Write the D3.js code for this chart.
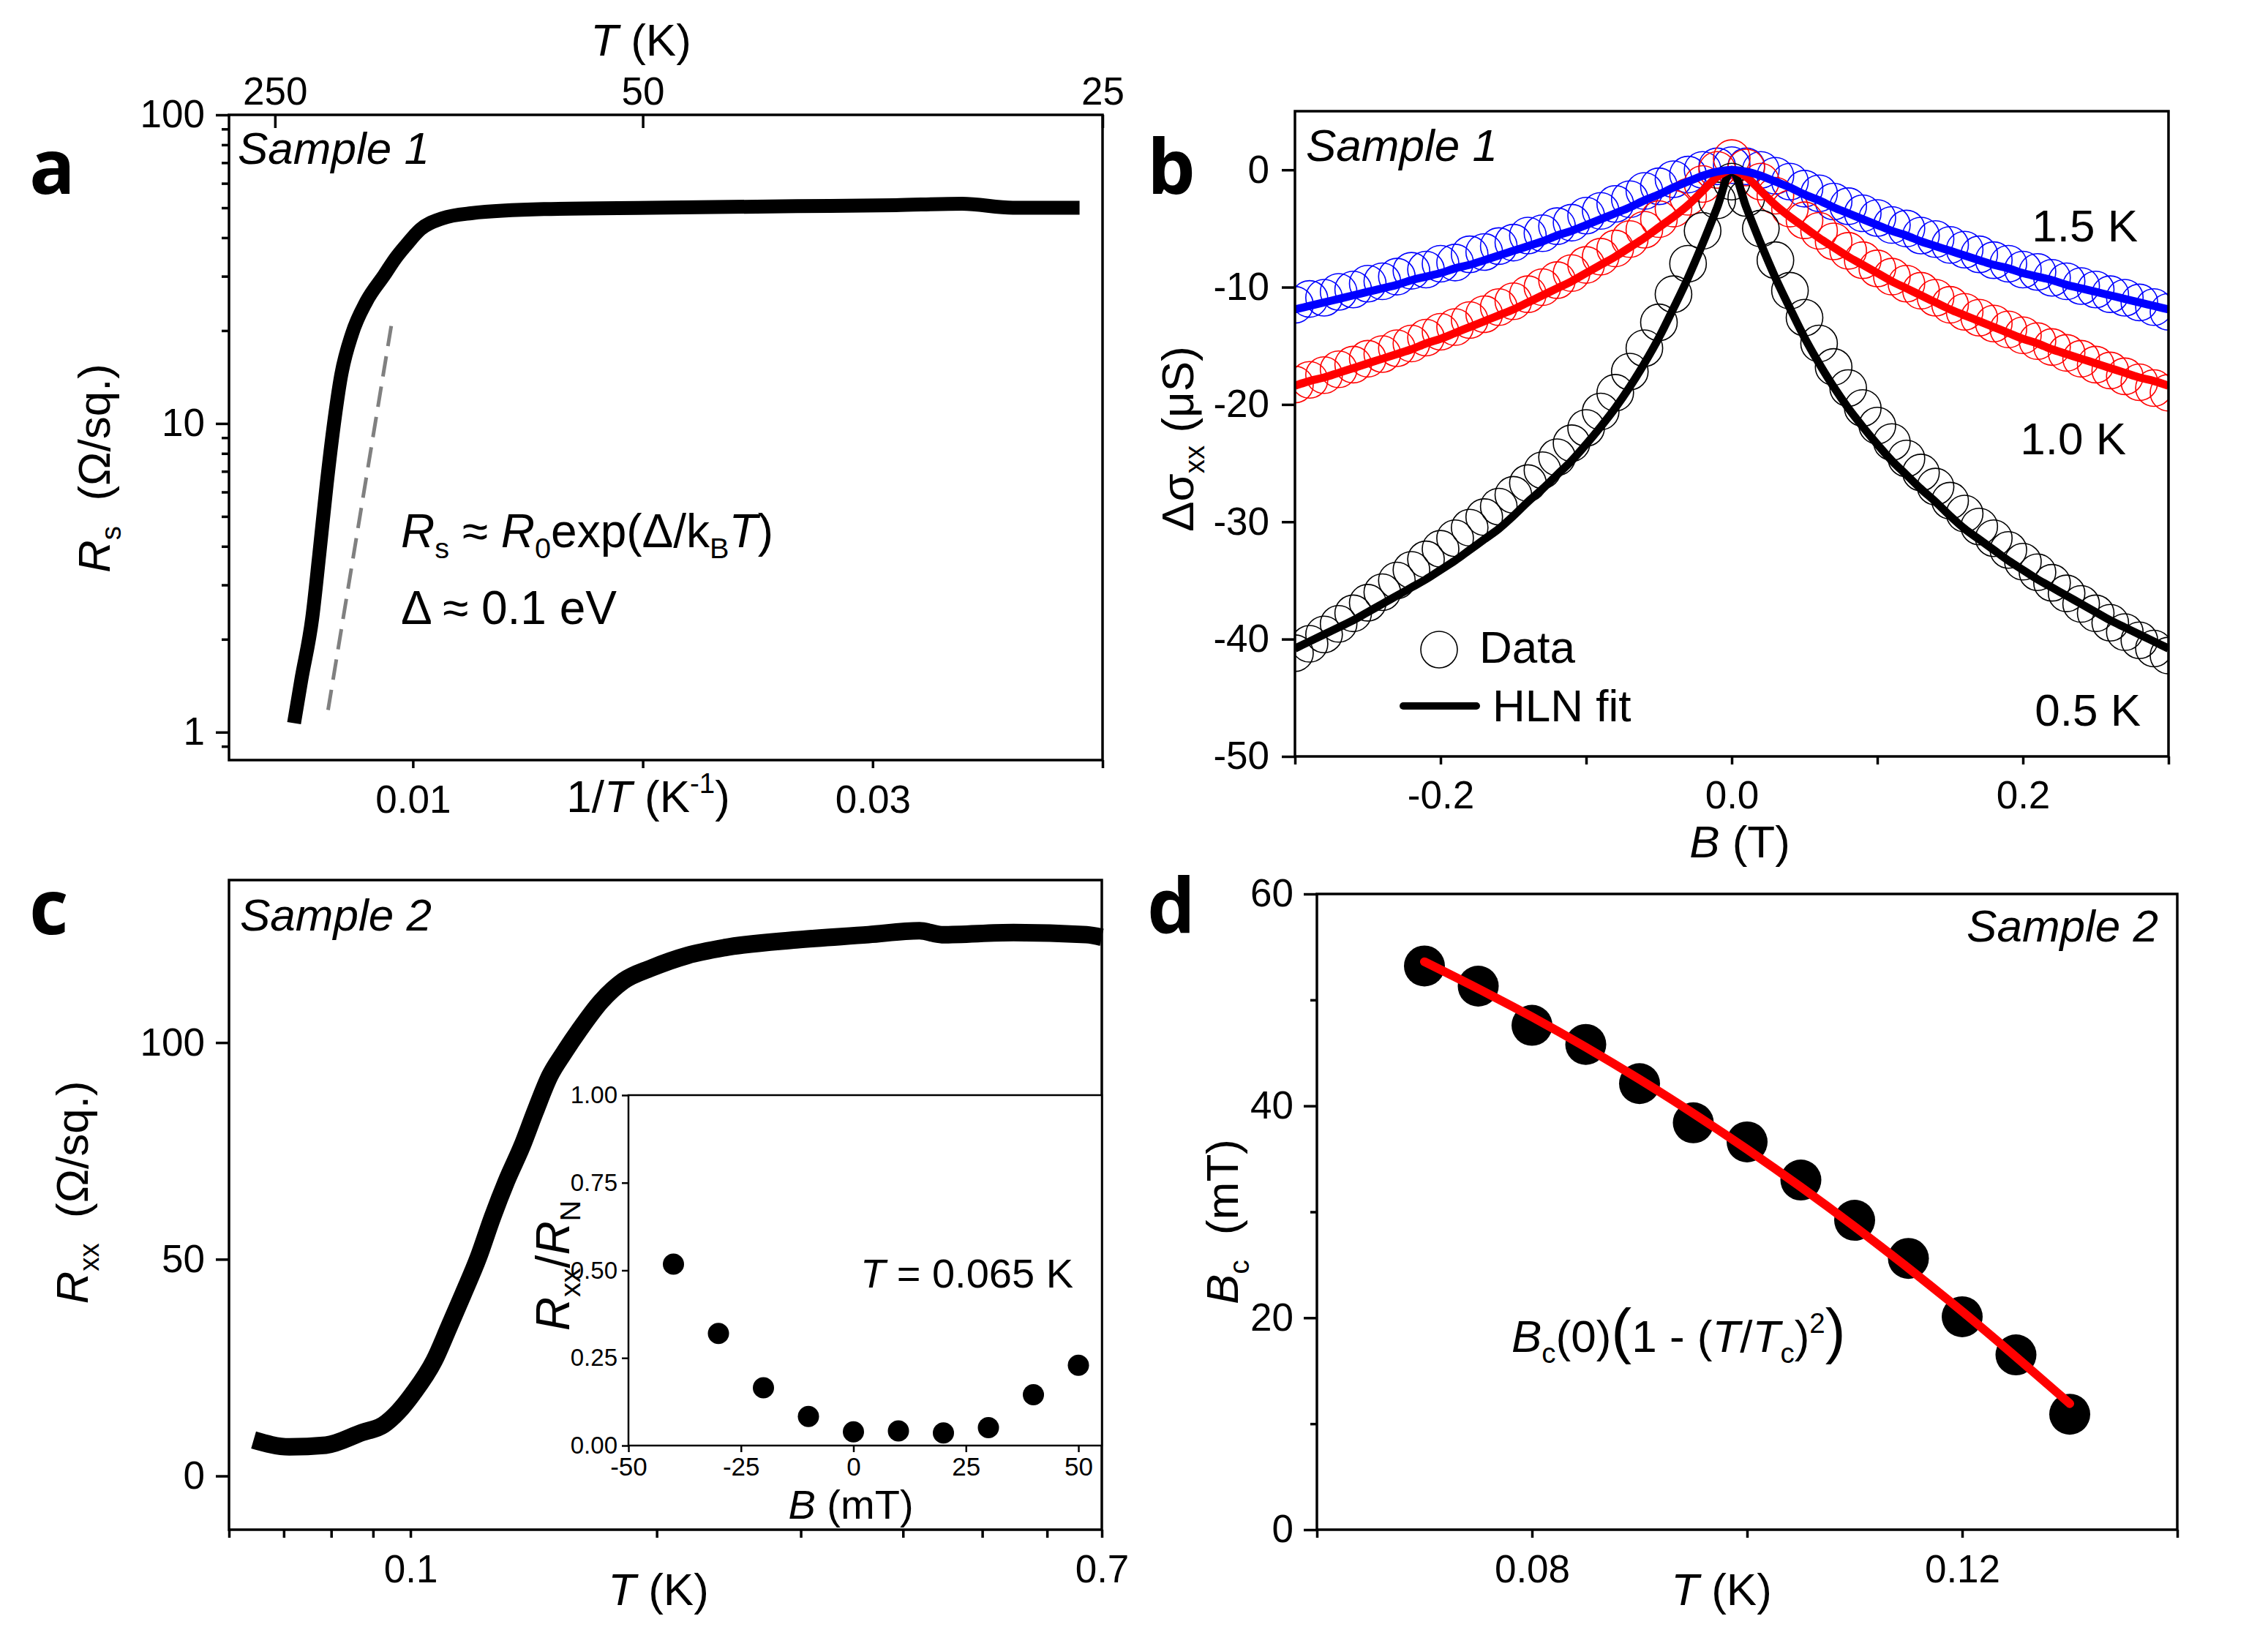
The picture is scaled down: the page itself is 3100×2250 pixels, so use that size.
<!DOCTYPE html>
<html><head><meta charset="utf-8">
<script src="https://cdn.jsdelivr.net/npm/d3@7"></script>
<style>body{margin:0;background:#fff} text{white-space:pre}</style>
</head><body>
<script>
// ---------- Panel a data ----------
const aInvT = [0.00483,0.00514,0.00562,0.00593,0.00625,0.00656,0.00687,0.00735,0.00797,0.00876,0.00923,0.0097,0.01033,0.01128,0.01253,0.0157,0.0204,0.0267,0.031,0.0339,0.0361,0.039];
const aRs   = [1.07,1.47,2.34,3.78,6.36,9.9,14.2,19.5,24.8,30.3,34.2,37.8,42.6,46.2,48,49.5,50,50.6,51,51.5,50,50];
const aFitInvT = [0.00631, 0.00908];
const aFitRs   = [1.18, 21.2];
const aBottomTicks = [0.01, 0.02, 0.03, 0.04];
const aBottomLabels = ['0.01', '', '0.03', ''];
const aTopT = [250, 50, 25];
const aLeftTicks = [1, 10, 100];

// ---------- Panel b data ----------
const bField = [-0.30,-0.29,-0.28,-0.27,-0.26,-0.25,-0.24,-0.23,-0.22,-0.21,-0.20,-0.19,-0.18,-0.17,-0.16,-0.15,-0.14,-0.13,-0.12,-0.11,-0.10,-0.09,-0.08,-0.07,-0.06,-0.05,-0.04,-0.03,-0.02,-0.01,0,0.01,0.02,0.03,0.04,0.05,0.06,0.07,0.08,0.09,0.10,0.11,0.12,0.13,0.14,0.15,0.16,0.17,0.18,0.19,0.20,0.21,0.22,0.23,0.24,0.25,0.26,0.27,0.28,0.29,0.30];
const blueData = [-11.5,-11.0,-10.9,-10.4,-10.2,-9.7,-9.5,-9.1,-8.6,-8.5,-8.0,-7.9,-7.2,-7.0,-6.5,-6.2,-5.6,-5.4,-4.8,-4.5,-3.9,-3.5,-2.9,-2.5,-1.8,-1.4,-0.8,-0.4,0.0,0.3,0.4,0.3,0.0,-0.5,-1.0,-1.6,-2.0,-2.7,-3.1,-3.7,-4.1,-4.7,-5.0,-5.6,-5.9,-6.4,-6.8,-7.2,-7.7,-8.0,-8.5,-8.7,-9.2,-9.5,-9.9,-10.2,-10.6,-10.9,-11.3,-11.7,-12.1];
const blueFit  = [-11.9,-11.6,-11.3,-11.0,-10.7,-10.4,-10.1,-9.8,-9.4,-9.1,-8.8,-8.4,-8.1,-7.7,-7.3,-6.9,-6.5,-6.1,-5.6,-5.2,-4.7,-4.2,-3.7,-3.2,-2.6,-2.1,-1.5,-1.0,-0.5,-0.15,0,-0.15,-0.5,-1.0,-1.5,-2.1,-2.6,-3.2,-3.7,-4.2,-4.7,-5.2,-5.6,-6.1,-6.5,-6.9,-7.3,-7.7,-8.1,-8.4,-8.8,-9.1,-9.4,-9.8,-10.1,-10.4,-10.7,-11.0,-11.3,-11.6,-11.9];
const redData  = [-18.3,-17.9,-17.5,-17.0,-16.6,-16.1,-15.7,-15.2,-14.8,-14.3,-13.8,-13.4,-12.8,-12.3,-11.7,-11.2,-10.6,-10.0,-9.4,-8.8,-8.1,-7.4,-6.7,-5.9,-5.1,-4.2,-3.3,-2.3,-1.2,0.0,1.0,0.2,-1.0,-2.2,-3.3,-4.3,-5.2,-6.1,-6.9,-7.7,-8.4,-9.1,-9.7,-10.3,-10.9,-11.5,-12.1,-12.6,-13.1,-13.6,-14.1,-14.6,-15.1,-15.6,-16.1,-16.6,-17.1,-17.6,-18.1,-18.6,-19.0];
const redFit   = [-18.4,-18.0,-17.7,-17.3,-16.9,-16.5,-16.1,-15.7,-15.3,-14.8,-14.4,-13.9,-13.4,-12.9,-12.4,-11.9,-11.3,-10.7,-10.1,-9.5,-8.8,-8.1,-7.4,-6.6,-5.8,-4.9,-4.0,-3.0,-1.8,-0.6,0,-0.6,-1.8,-3.0,-4.0,-4.9,-5.8,-6.6,-7.4,-8.1,-8.8,-9.5,-10.1,-10.7,-11.3,-11.9,-12.4,-12.9,-13.4,-13.9,-14.4,-14.8,-15.3,-15.7,-16.1,-16.5,-16.9,-17.3,-17.7,-18.0,-18.4];
const blackData= [-41.2,-40.4,-39.6,-38.7,-37.8,-36.9,-36.0,-35.0,-34.1,-33.2,-32.3,-31.4,-30.5,-29.6,-28.7,-27.7,-26.7,-25.6,-24.5,-23.3,-22.0,-20.6,-19.0,-17.2,-15.2,-13.0,-10.6,-8.0,-5.2,-2.6,-1.0,-2.4,-5.0,-7.7,-10.3,-12.6,-14.8,-16.8,-18.6,-20.3,-21.8,-23.2,-24.6,-25.8,-27.0,-28.2,-29.3,-30.4,-31.4,-32.4,-33.4,-34.3,-35.2,-36.1,-37.0,-37.8,-38.6,-39.4,-40.1,-40.8,-41.4];
const blackFit = [-40.8,-40.2,-39.6,-39.0,-38.4,-37.7,-37.0,-36.3,-35.6,-34.9,-34.1,-33.3,-32.4,-31.5,-30.6,-29.5,-28.3,-27.2,-26.0,-24.8,-23.4,-21.9,-20.3,-18.5,-16.5,-14.3,-11.8,-9.2,-6.3,-3.2,0,-3.2,-6.3,-9.2,-11.8,-14.3,-16.5,-18.5,-20.3,-21.9,-23.4,-24.8,-26.0,-27.2,-28.3,-29.5,-30.6,-31.5,-32.4,-33.3,-34.1,-34.9,-35.6,-36.3,-37.0,-37.7,-38.4,-39.0,-39.6,-40.2,-40.8];
const bSeriesLabels = ['1.5 K', '1.0 K', '0.5 K'];
const bXTicks = [-0.3,-0.2,-0.1,0,0.1,0.2,0.3];
const bXLabels = ['', '-0.2', '', '0.0', '', '0.2', ''];
const bYTicks = [0,-10,-20,-30,-40,-50];

// ---------- Panel c data ----------
const cT = [0.0643,0.0711,0.0788,0.0872,0.0927,0.0966,0.1006,0.1069,0.1114,0.116,0.121,0.126,0.131,0.137,0.142,0.148,0.154,0.161,0.171,0.182,0.197,0.218,0.242,0.296,0.363,0.419,0.446,0.546,0.67,0.7];
const cR = [8.3,6.7,7.1,10,11.8,14.8,18.9,26.6,34.3,42,50.3,59.8,68,76.3,84,92.3,97.6,103,109.5,114.2,117.2,120.1,121.9,123.7,124.9,125.8,124.9,125.4,124.9,124.3];
const cXTicks = [0.06,0.07,0.08,0.09,0.1,0.2,0.3,0.4,0.5,0.6,0.7];
const cXLabeled = [0.1, 0.7];
const cYTicks = [0, 50, 100];
const insetB = [-40,-30,-20,-10,0,10,20,30,40,50];
const insetR = [0.518,0.320,0.165,0.083,0.039,0.042,0.036,0.051,0.145,0.229];
const insetXTicks = [-50,-25,0,25,50];
const insetYTicks = [0,0.25,0.5,0.75,1.0];

// ---------- Panel d data ----------
const dT  = [0.070,0.075,0.080,0.085,0.090,0.095,0.100,0.105,0.110,0.115,0.120,0.125,0.130];
const dBc = [53.2,51.3,47.6,45.8,42.1,38.4,36.6,33.0,29.2,25.6,20.1,16.5,10.9];
const dFitT  = [0.07,0.08,0.09,0.10,0.11,0.12,0.13];
const dFitBc = [53.6,48.4,42.5,35.9,28.6,20.6,11.9];
const dXTicks = [0.06,0.08,0.10,0.12,0.14];
const dXLabels = ['', '0.08', '', '0.12', ''];
const dYTicks = [0,20,40,60];
const dYMinor = [10,30,50];

// ---------- drawing ----------
const FONT = "'Liberation Sans', Arial, Helvetica, sans-serif";
const TICK_FS = 53, TITLE_FS = 62, LW = 3.5;
const svg = d3.select('body').append('svg').attr('width',3100).attr('height',2250)
  .attr('font-family', FONT);
svg.append('rect').attr('width',3100).attr('height',2250).attr('fill','#fff');

function styleAxis(g, fs) {
  g.selectAll('.domain').remove();
  g.selectAll('.tick line').attr('stroke','#000').attr('stroke-width',LW);
  g.selectAll('.tick text').attr('font-size',fs).attr('font-family',FONT).attr('fill','#000');
  return g;
}
function box(x0,y0,x1,y1) {
  svg.append('rect').attr('x',x0).attr('y',y0).attr('width',x1-x0).attr('height',y1-y0)
    .attr('fill','none').attr('stroke','#000').attr('stroke-width',LW);
}
function rich(parent, x, y, parts, fs, anchor, rot) {
  const t = parent.append('text').attr('font-size',fs).attr('text-anchor',anchor||'start').attr('fill','#000');
  if (rot) t.attr('transform',`translate(${x},${y}) rotate(-90)`); else t.attr('x',x).attr('y',y);
  let cur = 0;
  parts.forEach(p => {
    const s = t.append('tspan').text(p.t);
    let shift = 0, size = fs;
    if (p.sub) { shift = 0.24*fs; size = 0.62*fs; }
    if (p.sup) { shift = -0.42*fs; size = 0.62*fs; }
    if (p.big) size = fs*p.big;
    s.attr('font-size', size);
    if (shift - cur !== 0) s.attr('dy', shift - cur);
    cur = shift;
    if (p.it) s.attr('font-style','italic');
  });
  return t;
}
function letter(x, y, s) {
  svg.append('text').attr('x',x).attr('y',y).text(s).attr('font-family',"'Open Sans', 'DejaVu Sans', sans-serif")
    .attr('font-weight',700).attr('font-size',104).attr('fill','#000');
}
const hy = v => String(v).replace('\u2212','-');

// ===== Panel a =====
{
  const L=313, R=1507, T=157, B=1039;
  const x = d3.scaleLinear().domain([0.002,0.04]).range([L,R]);
  const y = d3.scaleLog().domain([0.812,100]).range([B,T]);
  styleAxis(svg.append('g').attr('transform',`translate(0,${B})`)
    .call(d3.axisBottom(x).tickValues(aBottomTicks).tickFormat((d,i)=>aBottomLabels[i]).tickSize(11).tickPadding(23)), TICK_FS);
  styleAxis(svg.append('g').attr('transform',`translate(${L},0)`)
    .call(d3.axisLeft(y).tickValues(aLeftTicks).tickFormat(d3.format('d')).tickSize(18).tickPadding(15)), TICK_FS);
  const minor = [0.9,2,3,4,5,6,7,8,9,20,30,40,50,60,70,80,90];
  styleAxis(svg.append('g').attr('transform',`translate(${L},0)`)
    .call(d3.axisLeft(y).tickValues(minor).tickFormat('').tickSize(10)), TICK_FS);
  styleAxis(svg.append('g').attr('transform',`translate(0,${T})`)
    .call(d3.axisTop(x).tickValues(aTopT.map(t=>1/t)).tickFormat((d,i)=>aTopT[i]).tickSize(-18).tickPadding(14)), TICK_FS);
  box(L,T,R,B);
  // dashed exponential fit
  svg.append('path').attr('d', d3.line()(aFitInvT.map((v,i)=>[x(v), y(aFitRs[i])])))
    .attr('stroke','#808080').attr('stroke-width',5).attr('stroke-dasharray','28,14').attr('fill','none');
  // data
  svg.append('path').attr('d', d3.line().curve(d3.curveMonotoneX)(aInvT.map((v,i)=>[x(v), y(aRs[i])])))
    .attr('stroke','#000').attr('stroke-width',19).attr('fill','none').attr('stroke-linejoin','round');
  rich(svg, 325, 224, [{t:'Sample 1', it:true}], TITLE_FS);
  rich(svg, 548, 748, [{t:'R',it:true},{t:'s',sub:true},{t:' \u2248 '},{t:'R',it:true},{t:'0',sub:true},{t:'exp(\u0394/k'},{t:'B',sub:true},{t:'T',it:true},{t:')'}], 64);
  rich(svg, 548, 853, [{t:'\u0394 \u2248 0.1 eV'}], 64);
  rich(svg, 876, 76, [{t:'T',it:true},{t:' (K)'}], TITLE_FS, 'middle');
  rich(svg, 886, 1110, [{t:'1/'},{t:'T',it:true},{t:' (K'},{t:'-1',sup:true},{t:')'}], TITLE_FS, 'middle');
  rich(svg, 150, 640, [{t:'R',it:true},{t:'s',sub:true},{t:'  (\u03A9/sq.)'}], TITLE_FS, 'middle', true);
  letter(40, 265, 'a');
}

// ===== Panel b =====
{
  const L=1770, R=2964, T=152, B=1034;
  const x = d3.scaleLinear().domain([-0.3,0.3]).range([L,R]);
  const y = d3.scaleLinear().domain([-50,5]).range([B,T]);
  styleAxis(svg.append('g').attr('transform',`translate(0,${B})`)
    .call(d3.axisBottom(x).tickValues(bXTicks).tickFormat((d,i)=>bXLabels[i]).tickSize(11).tickPadding(22)), TICK_FS);
  styleAxis(svg.append('g').attr('transform',`translate(${L},0)`)
    .call(d3.axisLeft(y).tickValues(bYTicks).tickFormat(d=>hy(d)).tickSize(18).tickPadding(17)), TICK_FS);
  svg.append('clipPath').attr('id','clipb').append('rect').attr('x',L).attr('y',T).attr('width',R-L).attr('height',B-T);
  const pg = svg.append('g').attr('clip-path','url(#clipb)');
  const series = [
    {data: blueData, fit: blueFit, color:'#0000ff'},
    {data: redData, fit: redFit, color:'#ff0000'},
    {data: blackData, fit: blackFit, color:'#000000'}
  ];
  series.forEach(s => {
    pg.append('g').selectAll('circle').data(bField).join('circle')
      .attr('cx', d=>x(d)).attr('cy', (d,i)=>y(s.data[i])).attr('r',25)
      .attr('fill','none').attr('stroke', s.color).attr('stroke-width',1.6);
  });
  [series[2], series[1], series[0]].forEach(s => {
    pg.append('path').attr('d', d3.line().curve(d3.curveMonotoneX)(bField.map((v,i)=>[x(v), y(s.fit[i])])))
      .attr('stroke', s.color).attr('stroke-width',11).attr('fill','none');
  });
  box(L,T,R,B);
  rich(svg, 1785, 220, [{t:'Sample 1', it:true}], TITLE_FS);
  rich(svg, 2922, 330, [{t:bSeriesLabels[0]}], TITLE_FS, 'end');
  rich(svg, 2906, 621, [{t:bSeriesLabels[1]}], TITLE_FS, 'end');
  rich(svg, 2926, 992, [{t:bSeriesLabels[2]}], TITLE_FS, 'end');
  // legend
  svg.append('circle').attr('cx',1967).attr('cy',888).attr('r',25).attr('fill','none').attr('stroke','#000').attr('stroke-width',1.6);
  rich(svg, 2022, 906, [{t:'Data'}], TITLE_FS);
  svg.append('line').attr('x1',1918).attr('x2',2018).attr('y1',965).attr('y2',965).attr('stroke','#000').attr('stroke-width',10).attr('stroke-linecap','round');
  rich(svg, 2040, 986, [{t:'HLN fit'}], TITLE_FS);
  rich(svg, 2378, 1172, [{t:'B',it:true},{t:' (T)'}], TITLE_FS, 'middle');
  rich(svg, 1631, 600, [{t:'\u0394\u03C3'},{t:'xx',sub:true},{t:' (\u03BCS)'}], TITLE_FS, 'middle', true);
  letter(1568, 265, 'b');
}

// ===== Panel c =====
{
  const L=313, R=1506, T=1203, B=2091;
  const x = d3.scaleLog().domain([0.06,0.7]).range([L,R]);
  const y = d3.scaleLinear().domain([-12.4,137.5]).range([B,T]);
  styleAxis(svg.append('g').attr('transform',`translate(0,${B})`)
    .call(d3.axisBottom(x).tickValues(cXTicks).tickFormat(d=>cXLabeled.includes(d)?String(d):'').tickSize(11).tickPadding(23)), TICK_FS);
  styleAxis(svg.append('g').attr('transform',`translate(${L},0)`)
    .call(d3.axisLeft(y).tickValues(cYTicks).tickFormat(d3.format('d')).tickSize(18).tickPadding(15)), TICK_FS);
  svg.append('path').attr('d', d3.line().curve(d3.curveMonotoneX)(cT.map((v,i)=>[x(v), y(cR[i])])))
    .attr('stroke','#000').attr('stroke-width',24).attr('fill','none').attr('stroke-linejoin','round');
  box(L,T,R,B);
  rich(svg, 328, 1272, [{t:'Sample 2', it:true}], TITLE_FS);
  rich(svg, 900, 2194, [{t:'T',it:true},{t:' (K)'}], TITLE_FS, 'middle');
  rich(svg, 120, 1630, [{t:'R',it:true},{t:'xx',sub:true},{t:'  (\u03A9/sq.)'}], TITLE_FS, 'middle', true);
  letter(40, 1277, 'c');

  // inset
  const iL=859, iR=1506, iT=1497, iB=1976;
  svg.append('rect').attr('x',iL).attr('y',iT).attr('width',iR-iL).attr('height',iB-iT).attr('fill','#fff');
  const xi = d3.scaleLinear().domain([-50,55.2]).range([iL,iR]);
  const yi = d3.scaleLinear().domain([0,1]).range([iB,iT]);
  const IFS = 33;
  const gx = styleAxis(svg.append('g').attr('transform',`translate(0,${iB})`)
    .call(d3.axisBottom(xi).tickValues(insetXTicks).tickFormat(d=>hy(d)).tickSize(9).tickPadding(7)), 35);
  gx.selectAll('.tick line').attr('stroke-width',2.5);
  const gy = styleAxis(svg.append('g').attr('transform',`translate(${iL},0)`)
    .call(d3.axisLeft(yi).tickValues(insetYTicks).tickFormat(d3.format('.2f')).tickSize(9).tickPadding(6)), IFS);
  gy.selectAll('.tick line').attr('stroke-width',2.5);
  svg.append('rect').attr('x',iL).attr('y',iT).attr('width',iR-iL).attr('height',iB-iT)
    .attr('fill','none').attr('stroke','#000').attr('stroke-width',2.5);
  svg.append('g').selectAll('circle').data(insetB).join('circle')
    .attr('cx',d=>xi(d)).attr('cy',(d,i)=>yi(insetR[i])).attr('r',14.5).attr('fill','#000');
  rich(svg, 1467, 1760, [{t:'T',it:true},{t:' = 0.065 K'}], 56, 'end');
  rich(svg, 1163, 2076, [{t:'B',it:true},{t:' (mT)'}], 56, 'middle');
  rich(svg, 778, 1730, [{t:'R',it:true},{t:'xx',sub:true},{t:'/'},{t:'R',it:true},{t:'N',sub:true}], 64, 'middle', true);
}

// ===== Panel d =====
{
  const L=1800, R=2976, T=1222, B=2091;
  const x = d3.scaleLinear().domain([0.06,0.14]).range([L,R]);
  const y = d3.scaleLinear().domain([0,60]).range([B,T]);
  styleAxis(svg.append('g').attr('transform',`translate(0,${B})`)
    .call(d3.axisBottom(x).tickValues(dXTicks).tickFormat((d,i)=>dXLabels[i]).tickSize(11).tickPadding(23)), TICK_FS);
  styleAxis(svg.append('g').attr('transform',`translate(${L},0)`)
    .call(d3.axisLeft(y).tickValues(dYTicks).tickFormat(d3.format('d')).tickSize(18).tickPadding(14)), TICK_FS);
  styleAxis(svg.append('g').attr('transform',`translate(${L},0)`)
    .call(d3.axisLeft(y).tickValues(dYMinor).tickFormat('').tickSize(9)), TICK_FS);
  box(L,T,R,B);
  svg.append('g').selectAll('circle').data(dT).join('circle')
    .attr('cx',d=>x(d)).attr('cy',(d,i)=>y(dBc[i])).attr('r',28).attr('fill','#000');
  svg.append('path').attr('d', d3.line().curve(d3.curveMonotoneX)(dFitT.map((v,i)=>[x(v), y(dFitBc[i])])))
    .attr('stroke','#ff0000').attr('stroke-width',12).attr('fill','none').attr('stroke-linecap','round');
  rich(svg, 2950, 1287, [{t:'Sample 2', it:true}], TITLE_FS, 'end');
  rich(svg, 2066, 1848, [{t:'B',it:true},{t:'c',sub:true},{t:'(0)'},{t:'(',big:1.35},{t:'1 - ('},{t:'T',it:true},{t:'/'},{t:'T',it:true},{t:'c',sub:true},{t:')'},{t:'2',sup:true},{t:')',big:1.35}], 62);
  rich(svg, 2353, 2194, [{t:'T',it:true},{t:' (K)'}], TITLE_FS, 'middle');
  rich(svg, 1692, 1670, [{t:'B',it:true},{t:'c',sub:true},{t:'  (mT)'}], TITLE_FS, 'middle', true);
  letter(1568, 1275, 'd');
}
</script>
</body></html>
